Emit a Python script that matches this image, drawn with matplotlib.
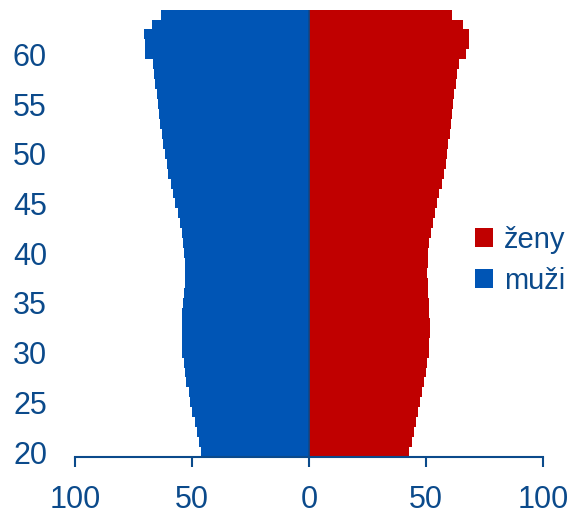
import matplotlib.pyplot as plt
import numpy as np

# age structure, ages 20..64
ages = np.arange(20, 65)
muzi = [45.9, 46.9, 47.7, 48.7, 49.8, 50.6, 51.4, 52.3, 52.8, 53.4,
        54.0, 54.1, 54.1, 54.1, 54.0, 53.6, 53.3, 53.0, 53.0, 53.0,
        53.3, 53.7, 54.3, 55.0, 55.8, 57.0, 58.0, 59.0, 60.0, 60.8,
        61.6, 62.4, 62.9, 63.5, 64.1, 64.5, 65.1, 65.7, 66.2, 66.8,
        69.9, 69.9, 70.3, 67.1, 63.2]
zeny = [42.9, 43.9, 44.9, 45.7, 46.6, 47.6, 48.4, 49.1, 49.9, 50.6,
        51.1, 51.4, 51.6, 51.6, 51.4, 51.1, 50.9, 50.7, 50.6, 50.7,
        50.9, 51.4, 52.0, 52.9, 53.8, 54.8, 55.7, 56.7, 57.5, 58.4,
        59.0, 59.5, 60.1, 60.7, 61.3, 61.7, 62.1, 62.7, 63.1, 64.0,
        67.2, 68.2, 68.2, 65.8, 61.0]
xticks = [-100, -50, 0, 50, 100]
xlabels = ['100', '50', '0', '50', '100']
yticks = [20, 25, 30, 35, 40, 45, 50, 55, 60]

text_col = '#0B4A8B'
plt.rcParams['font.family'] = ['Liberation Sans', 'DejaVu Sans']

fig = plt.figure(figsize=(5.71, 5.19), dpi=100)
ax = fig.add_axes([0.131, 0.1195, 0.82, 0.862])

ax.barh(ages, zeny, height=1.0, color='#C00000', linewidth=0, label='ženy')
ax.barh(ages, -np.array(muzi), height=1.0, color='#0055B5', linewidth=0, label='muži')
ax.axvline(0, color=text_col, lw=1.2)

ax.set_xlim(-100, 100)
ax.set_ylim(19.5, 64.5)
ax.set_xticks(xticks)
ax.set_xticklabels(xlabels)
ax.set_yticks(yticks)

for s in ['top', 'right', 'left']:
    ax.spines[s].set_visible(False)
ax.spines['bottom'].set_color(text_col)
ax.spines['bottom'].set_linewidth(1.5)
ax.tick_params(axis='x', direction='out', length=7, width=1.5, color=text_col,
               labelcolor=text_col, labelsize=22, pad=13)
ax.tick_params(axis='y', length=0, labelcolor=text_col, labelsize=22, pad=20)

leg = ax.legend(loc='center left', bbox_to_anchor=(0.83, 0.44), frameon=False,
                fontsize=21, handlelength=0.6, handleheight=0.6,
                handletextpad=0.4, labelspacing=0.45, borderaxespad=0)
for t in leg.get_texts():
    t.set_color(text_col)

fig.savefig('out.png', dpi=100)
